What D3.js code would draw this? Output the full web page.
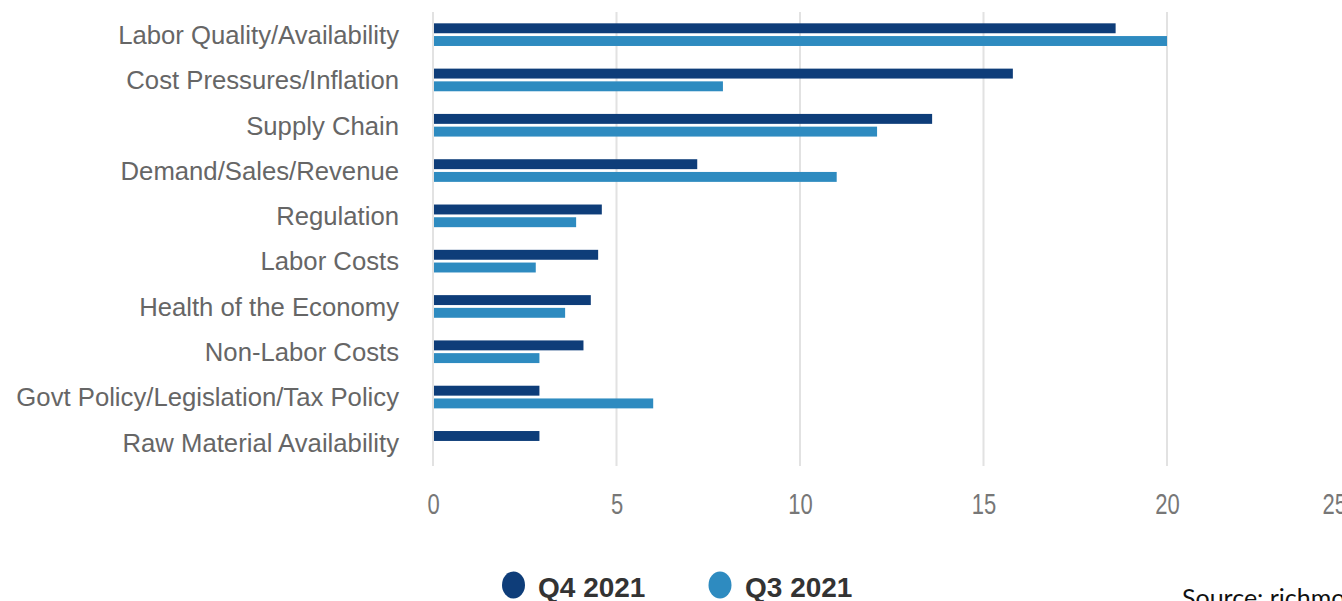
<!DOCTYPE html>
<html>
<head>
<meta charset="utf-8">
<script src="https://cdn.jsdelivr.net/npm/d3@7"></script>
<style>
  html, body { margin: 0; padding: 0; background: #fff; overflow: hidden; }
  svg { display: block; }
</style>
</head>
<body>
<svg id="chart" width="1342" height="601"></svg>
<script>
// Top business concerns, share of respondents (%)
const categories = [
  "Labor Quality/Availability",
  "Cost Pressures/Inflation",
  "Supply Chain",
  "Demand/Sales/Revenue",
  "Regulation",
  "Labor Costs",
  "Health of the Economy",
  "Non-Labor Costs",
  "Govt Policy/Legislation/Tax Policy",
  "Raw Material Availability"
];
const q4_2021 = [18.6, 15.8, 13.6, 7.2, 4.6, 4.5, 4.3, 4.1, 2.9, 2.9];
const q3_2021 = [20.0, 7.9, 12.1, 11.0, 3.9, 2.8, 3.6, 2.9, 6.0, 0];
const seriesNames = ["Q4 2021", "Q3 2021"];
const seriesColors = ["#0e3d79", "#2e8bc0"];
const xTicks = [0, 5, 10, 15, 20, 25];

const svg = d3.select("#chart");
const plot = { left: 433, right: 1350.5, top: 12, bottom: 465 };

const x = d3.scaleLinear().domain([0, 25]).range([plot.left, plot.right]);
const y = d3.scaleBand().domain(categories).range([plot.top, plot.bottom])
  .paddingInner(0.5).paddingOuter(0.25);
const ySub = d3.scaleBand().domain(seriesNames).range([0, y.bandwidth()])
  .paddingInner(0.22);

// vertical gridlines
svg.append("g").selectAll("line").data(xTicks).join("line")
  .attr("x1", d => x(d)).attr("x2", d => x(d))
  .attr("y1", plot.top).attr("y2", plot.bottom + 1)
  .attr("stroke", "#e2e2e2").attr("stroke-width", 2);

// x tick labels (tall, narrow digits)
const xAxis = svg.append("g")
  .attr("transform", `translate(0,${plot.bottom})`)
  .call(d3.axisBottom(x).tickValues(xTicks).tickSize(0).tickPadding(0));
xAxis.select(".domain").remove();
xAxis.selectAll(".tick text")
  .attr("font-family", "Liberation Sans, Arial, sans-serif")
  .attr("font-size", 22)
  .attr("fill", "#777")
  .attr("y", 0)
  .attr("dy", 0)
  .attr("transform", "translate(0,49) scale(1,1.3)");
xAxis.selectAll(".tick").filter(d => d === 25).select("text")
  .attr("text-anchor", "start").attr("x", -28.5);

// category labels
svg.append("g").selectAll("text").data(categories).join("text")
  .attr("x", 399)
  .attr("y", d => y(d) + y.bandwidth() / 2)
  .attr("dy", "0.36em")
  .attr("text-anchor", "end")
  .attr("font-family", "Liberation Sans, Arial, sans-serif")
  .attr("font-size", 25.7)
  .attr("fill", "#666")
  .text(d => d);

// bars
const rows = categories.map((c, i) => ({ cat: c, vals: [q4_2021[i], q3_2021[i]] }));
const groups = svg.append("g").selectAll("g").data(rows).join("g")
  .attr("transform", d => `translate(0,${y(d.cat)})`);
groups.selectAll("rect")
  .data(d => d.vals.map((v, j) => ({ v, s: seriesNames[j], c: seriesColors[j] })).filter(e => e.v > 0))
  .join("rect")
  .attr("x", x(0) + 1)
  .attr("y", d => ySub(d.s))
  .attr("width", d => x(d.v) - x(0) - 1)
  .attr("height", ySub.bandwidth())
  .attr("fill", d => d.c);

// legend
const legendPos = [{ cx: 513.5, tx: 538 }, { cx: 720, tx: 745 }];
const legend = svg.append("g").selectAll("g").data(seriesNames).join("g");
legend.append("ellipse")
  .attr("cx", (d, i) => legendPos[i].cx).attr("cy", 585)
  .attr("rx", 11.5).attr("ry", 13.5)
  .attr("fill", (d, i) => seriesColors[i]);
legend.append("text")
  .attr("x", (d, i) => legendPos[i].tx).attr("y", 597)
  .attr("font-family", "Liberation Sans, Arial, sans-serif")
  .attr("font-weight", "bold")
  .attr("font-size", 28)
  .attr("fill", "#333")
  .text(d => d);

// source note
svg.append("text")
  .attr("x", 1182).attr("y", 607)
  .attr("font-family", "Lato, 'Open Sans', sans-serif")
  .attr("font-size", 25)
  .attr("fill", "#111")
  .text("Source: richmondfed.org");
</script>
</body>
</html>
